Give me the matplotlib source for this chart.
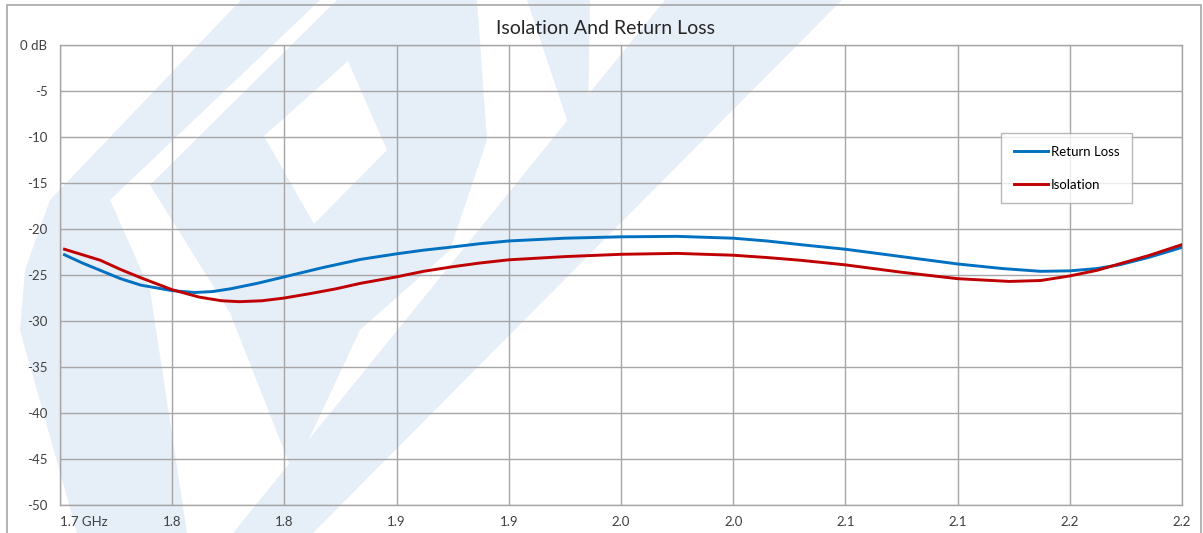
import matplotlib.pyplot as plt
from matplotlib.patches import Polygon, Rectangle

plt.rcParams['font.family'] = ['Lato', 'DejaVu Sans']

# ===== data =====
rl_freq = [1.702, 1.710, 1.718, 1.727, 1.736, 1.750, 1.760, 1.768, 1.776, 1.788,
           1.800, 1.817, 1.834, 1.850, 1.862, 1.875, 1.887, 1.900, 1.925, 1.950,
           1.975, 2.000, 2.015, 2.030, 2.050, 2.075, 2.100, 2.120, 2.137, 2.150,
           2.162, 2.172, 2.185, 2.200]
rl_db = [-22.8, -23.7, -24.5, -25.4, -26.1, -26.7, -26.9, -26.8, -26.5, -25.9,
         -25.2, -24.2, -23.3, -22.7, -22.3, -21.95, -21.6, -21.3, -21.0, -20.85,
         -20.8, -21.0, -21.3, -21.7, -22.2, -23.0, -23.8, -24.3, -24.6, -24.55,
         -24.3, -23.9, -23.1, -22.0]

iso_freq = [1.702, 1.710, 1.718, 1.727, 1.736, 1.750, 1.762, 1.772, 1.780, 1.790,
            1.800, 1.812, 1.823, 1.834, 1.850, 1.862, 1.875, 1.887, 1.900, 1.925,
            1.950, 1.975, 2.000, 2.015, 2.030, 2.050, 2.075, 2.100, 2.123, 2.137,
            2.150, 2.162, 2.172, 2.185, 2.200]
iso_db = [-22.2, -22.8, -23.4, -24.4, -25.3, -26.6, -27.4, -27.8, -27.9, -27.8,
          -27.5, -27.0, -26.5, -25.9, -25.2, -24.6, -24.1, -23.7, -23.35, -23.0,
          -22.75, -22.65, -22.85, -23.1, -23.4, -23.9, -24.7, -25.4, -25.7, -25.6,
          -25.1, -24.5, -23.8, -22.9, -21.7]

x_ticks = [1.70, 1.75, 1.80, 1.85, 1.90, 1.95, 2.00, 2.05, 2.10, 2.15, 2.20]
x_labels = ['1.7 GHz', '1.8', '1.8', '1.9', '1.9', '2.0', '2.0', '2.1', '2.1', '2.2', '2.2']
y_ticks = [0, -5, -10, -15, -20, -25, -30, -35, -40, -45, -50]
y_labels = ['0 dB', '-5', '-10', '-15', '-20', '-25', '-30', '-35', '-40', '-45', '-50']

W, H = 1203, 533
GRID = '#a6a6a6'
WM = '#e6eef7'

fig = plt.figure(figsize=(W / 100, H / 100), dpi=100)


def px(pts):
    # pixel coords of the source image -> figure fraction
    return [(x / W, 1 - y / H) for x, y in pts]


# faint logo watermark behind everything
wm_shapes = [
    [(241, 0), (320, 0), (110, 200), (150, 290), (187, 533), (77, 533), (20, 330), (25, 270), (50, 200)],
    [(337, 0), (477, 0), (487, 140), (450, 250), (360, 330), (293, 473), (230, 313), (150, 185)],
    [(665, 0), (842, 0), (313, 533), (233, 533)],
    [(527, 0), (590, 0), (587, 180)],
]
for s in wm_shapes:
    fig.patches.append(Polygon(px(s), closed=True, transform=fig.transFigure,
                               facecolor=WM, edgecolor='none', zorder=-2))
# hole of the logo
fig.patches.append(Polygon(px([(348, 61), (387, 150), (314, 224), (264, 136)]), closed=True,
                           transform=fig.transFigure, facecolor='white', edgecolor='none', zorder=-1))

# outer chart frame
fig.patches.append(Rectangle((7 / W, -0.05), (1201 - 7) / W, 1 - 5 / H + 0.05,
                             transform=fig.transFigure, facecolor='none',
                             edgecolor=GRID, lw=1.2, zorder=-1))

ax = fig.add_axes([60 / W, 1 - 505 / H, (1182 - 60) / W, (505 - 45) / H])
ax.set_facecolor('none')
ax.set_zorder(2)

ax.plot(rl_freq, rl_db, color='#0070c0', lw=2.1, label='Return Loss', zorder=3)
ax.plot(iso_freq, iso_db, color='#c00000', lw=2.1, label='Isolation', zorder=3)

ax.set_xlim(1.70, 2.20)
ax.set_ylim(-50, 0)
ax.set_xticks(x_ticks)
ax.set_xticklabels(x_labels)
ax.set_yticks(y_ticks)
ax.set_yticklabels(y_labels)
ax.get_xticklabels()[0].set_ha('left')
ax.tick_params(length=0, labelsize=9.5, colors='#404040')
ax.tick_params(axis='y', pad=9)
ax.tick_params(axis='x', pad=8)
ax.grid(True, color=GRID, lw=1)
for sp in ax.spines.values():
    sp.set_color(GRID)
    sp.set_linewidth(1)

fig.text(606 / W, 1 - 28 / H, 'Isolation And Return Loss', ha='center', va='center',
         fontsize=14, color='#262626')

leg = ax.legend(loc='upper left', bbox_to_anchor=((1001 - 60) / 1122, (505 - 133) / 460),
                borderaxespad=0, fancybox=False, frameon=True, fontsize=9.5,
                handlelength=2.6, handletextpad=0.25, labelspacing=1.6,
                borderpad=0.95)
leg.get_frame().set_edgecolor(GRID)
leg.get_frame().set_linewidth(1)

plt.savefig('out.png', dpi=100)
